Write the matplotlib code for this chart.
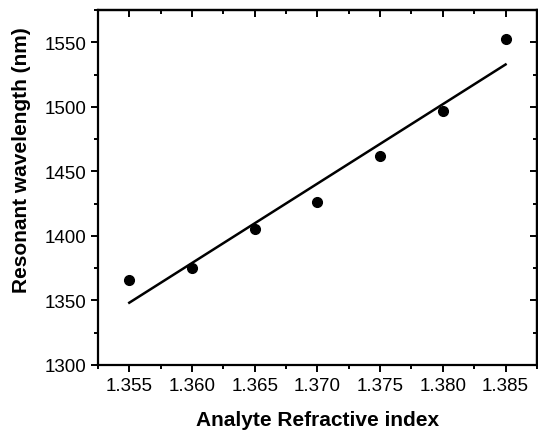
"""Resonant wavelength vs analyte refractive index with linear fit."""
import numpy as np
import matplotlib
matplotlib.use('Agg')
import matplotlib.pyplot as plt
from matplotlib.ticker import MultipleLocator

ri = [1.355, 1.360, 1.365, 1.370, 1.375, 1.380, 1.385]
wavelength = [1366, 1375, 1405, 1426, 1462, 1497, 1553]

plt.rcParams['font.family'] = ['Liberation Sans', 'DejaVu Sans']

fig = plt.figure(figsize=(5.38, 4.31), dpi=100)
ax = fig.add_axes([0.182, 0.151, 0.816, 0.823])

# linear fit through the points
k, b = np.polyfit(ri, wavelength, 1)
xf = np.array([ri[0], ri[-1]])
ax.plot(xf, k * xf + b, color='black', lw=1.8)
ax.plot(ri, wavelength, 'o', color='black', ms=7)

ax.set_xlim(1.3525, 1.3875)
ax.set_ylim(1300, 1575)
ax.xaxis.set_major_locator(MultipleLocator(0.005))
ax.xaxis.set_minor_locator(MultipleLocator(0.0025))
ax.yaxis.set_major_locator(MultipleLocator(50))
ax.yaxis.set_minor_locator(MultipleLocator(25))
ax.set_xticks(ri)
ax.set_xticklabels([f'{v:.3f}' for v in ri])

for s in ax.spines.values():
    s.set_linewidth(1.6)
ax.tick_params(which='both', direction='out', top=False, right=False,
               width=1.4, labelsize=13.5)
ax.tick_params(which='major', length=5)
ax.tick_params(which='minor', length=3)

# inward ticks on top and right, as in the original
sec_x = ax.secondary_xaxis('top')
sec_x.set_xticks(ri)
sec_x.xaxis.set_minor_locator(MultipleLocator(0.0025))
sec_x.tick_params(which='both', direction='in', labeltop=False, width=1.4)
sec_x.tick_params(which='major', length=5)
sec_x.tick_params(which='minor', length=3)
sec_x.spines['top'].set_linewidth(1.6)
sec_y = ax.secondary_yaxis('right')
sec_y.yaxis.set_major_locator(MultipleLocator(50))
sec_y.yaxis.set_minor_locator(MultipleLocator(25))
sec_y.tick_params(which='both', direction='in', labelright=False, width=1.4)
sec_y.tick_params(which='major', length=5)
sec_y.tick_params(which='minor', length=3)
sec_y.spines['right'].set_linewidth(1.6)

ax.set_xlabel('Analyte Refractive index', fontsize=15, fontweight='bold', labelpad=12)
ax.set_ylabel('Resonant wavelength (nm)', fontsize=15, fontweight='bold',
              va='center', ha='center')
ax.yaxis.set_label_coords(-0.173, 0.58)

plt.savefig('out.png', dpi=100)
plt.close()
